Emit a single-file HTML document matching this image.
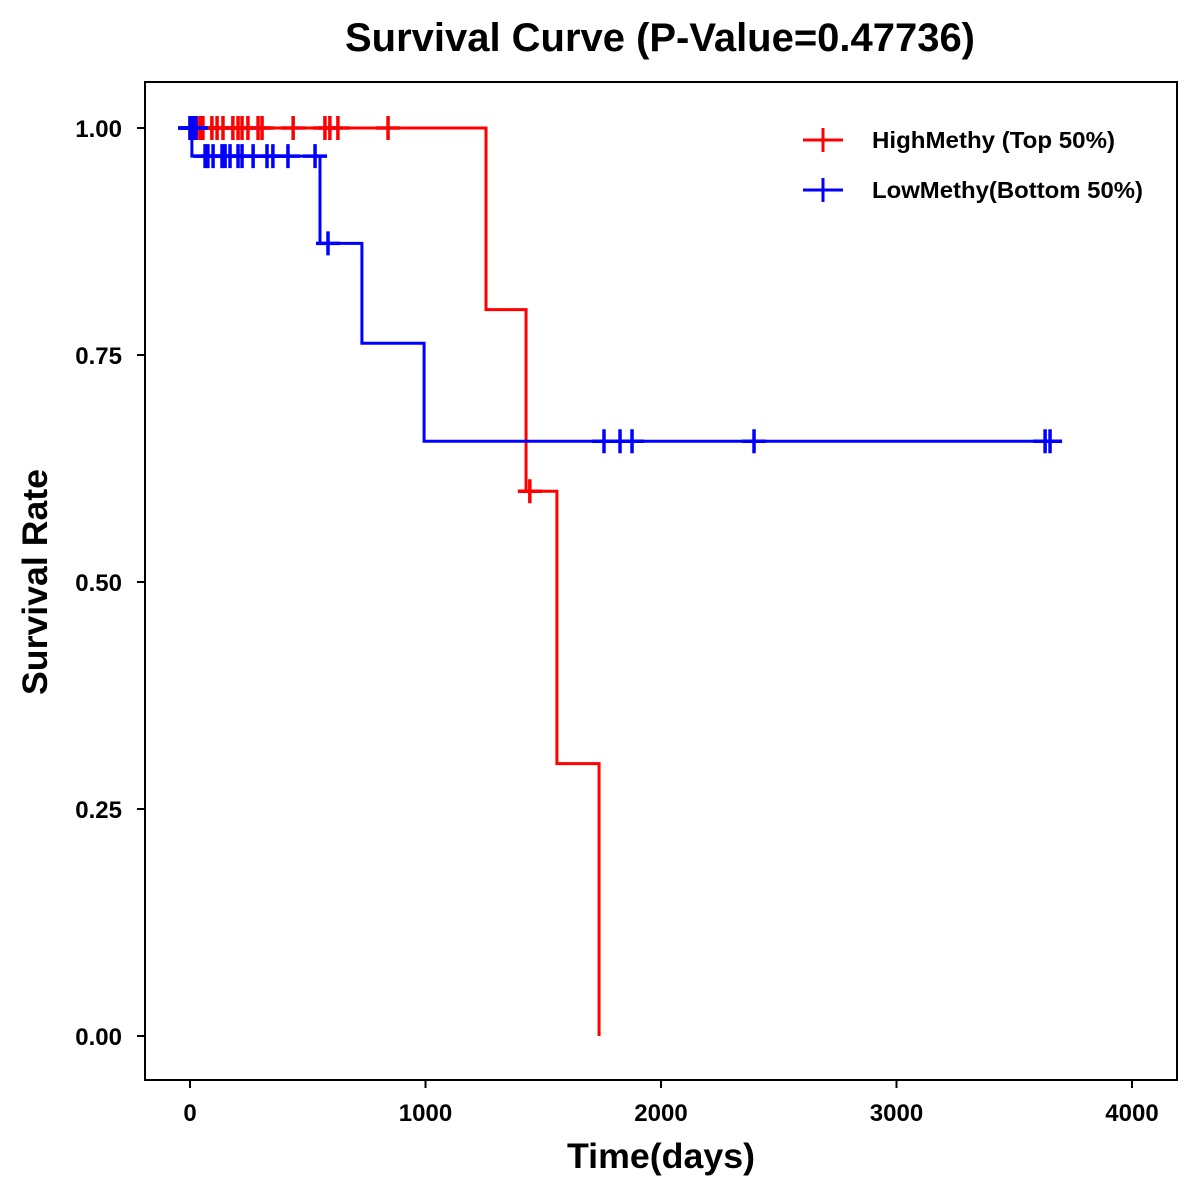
<!DOCTYPE html>
<html><head><meta charset="utf-8"><style>
html,body{margin:0;padding:0;background:#fff;}
svg{display:block;font-family:"Liberation Sans",Arial,sans-serif;font-weight:bold;}
</style></head><body>
<svg id="chart" width="1200" height="1200" viewBox="0 0 1200 1200" xmlns="http://www.w3.org/2000/svg">
<rect x="0" y="0" width="1200" height="1200" fill="#fff"/>
<text x="660" y="51" font-size="40" text-anchor="middle" textLength="630" lengthAdjust="spacingAndGlyphs">Survival Curve (P-Value=0.47736)</text>
<rect x="145" y="82" width="1032" height="998" fill="none" stroke="#000" stroke-width="2"/>
<g id="axes"></g>
<g id="series"></g>
<text x="661" y="1168" font-size="35" text-anchor="middle" textLength="188" lengthAdjust="spacingAndGlyphs">Time(days)</text>
<text transform="translate(47,582) rotate(-90)" font-size="35" text-anchor="middle" textLength="226" lengthAdjust="spacingAndGlyphs">Survival Rate</text>
<g>
 <g>
  <line x1="803" y1="140" x2="843" y2="140" stroke="#f00" stroke-width="3"/>
  <line x1="823" y1="128" x2="823" y2="152" stroke="#f00" stroke-width="3"/>
  <text x="872" y="148" font-size="23" textLength="243" lengthAdjust="spacingAndGlyphs">HighMethy (Top 50%)</text>
 </g>
 <g>
  <line x1="803" y1="190" x2="843" y2="190" stroke="#00f" stroke-width="3"/>
  <line x1="823" y1="178" x2="823" y2="202" stroke="#00f" stroke-width="3"/>
  <text x="872" y="198" font-size="23" textLength="271" lengthAdjust="spacingAndGlyphs">LowMethy(Bottom 50%)</text>
 </g>
</g>
</svg>
<script>
const xTicks=[0,1000,2000,3000,4000];
const yTicks=[0,0.25,0.5,0.75,1.0];
const yTickLabels=["0.00","0.25","0.50","0.75","1.00"];
const highTimes=[0,1257,1427,1558,1737];
const highSurv=[1.0,0.8,0.6,0.3,0.0];
const highEnd=1737;
const highCensorT=[0,10,20,30,45,55,93,115,140,182,204,221,246,289,306,438,573,594,628,841,1443];
const highCensorS=[1,1,1,1,1,1,1,1,1,1,1,1,1,1,1,1,1,1,1,1,0.6];
const lowTimes=[0,8,552,730,994];
const lowSurv=[1.0,0.969,0.873,0.763,0.655];
const lowEnd=3703;
const lowCensorT=[0,5,10,15,20,25,64,76,98,136,149,170,204,221,268,327,352,416,531,586,1758,1826,1877,2395,3631,3652];
const lowCensorS=[1,1,1,1,1,1,0.969,0.969,0.969,0.969,0.969,0.969,0.969,0.969,0.969,0.969,0.969,0.969,0.969,0.873,0.655,0.655,0.655,0.655,0.655,0.655];

const X=t=>190+t*0.2355;
const Y=s=>1036-s*908;
const NS="http://www.w3.org/2000/svg";
function mk(tag,attrs,parent){const e=document.createElementNS(NS,tag);for(const k in attrs)e.setAttribute(k,attrs[k]);parent.appendChild(e);return e;}
const axes=document.getElementById('axes');
xTicks.forEach((v,i)=>{
 const g=mk('g',{},axes);
 
 
 mk('line',{x1:X(v),y1:1080,x2:X(v),y2:1088,stroke:'#000','stroke-width':2},g);
 const t=mk('text',{x:X(v),y:1121,'font-size':24,'text-anchor':'middle'},g);t.textContent=v;
});
yTicks.forEach((v,i)=>{
 const g=mk('g',{},axes);
 
 
 mk('line',{x1:137,y1:Y(v),x2:145,y2:Y(v),stroke:'#000','stroke-width':2},g);
 const t=mk('text',{x:122,y:Y(v)+9,'font-size':24,'text-anchor':'end'},g);t.textContent=yTickLabels[i];
});
const series=document.getElementById('series');
function drawSeries(name,times,surv,end,ct,cs,color){
 const g=mk('g',{},series);
 
 
 let d='M'+X(times[0])+' '+Y(surv[0]);
 for(let i=1;i<times.length;i++){d+=' H'+X(times[i])+' V'+Y(surv[i]);}
 d+=' H'+X(end);
 const p=mk('path',{d:d,fill:'none',stroke:color,'stroke-width':3},g);
 
 
 ct.forEach((t,i)=>{
  const c=mk('path',{d:'M'+(X(t)-12)+' '+Y(cs[i])+' h24 M'+X(t)+' '+(Y(cs[i])-12)+' v24',stroke:color,'stroke-width':3.5,fill:'none'},g);
  
  
 });
}
drawSeries('high-methy',highTimes,highSurv,highEnd,highCensorT,highCensorS,'#f00');
drawSeries('low-methy',lowTimes,lowSurv,lowEnd,lowCensorT,lowCensorS,'#00f');
</script>
</body></html>
